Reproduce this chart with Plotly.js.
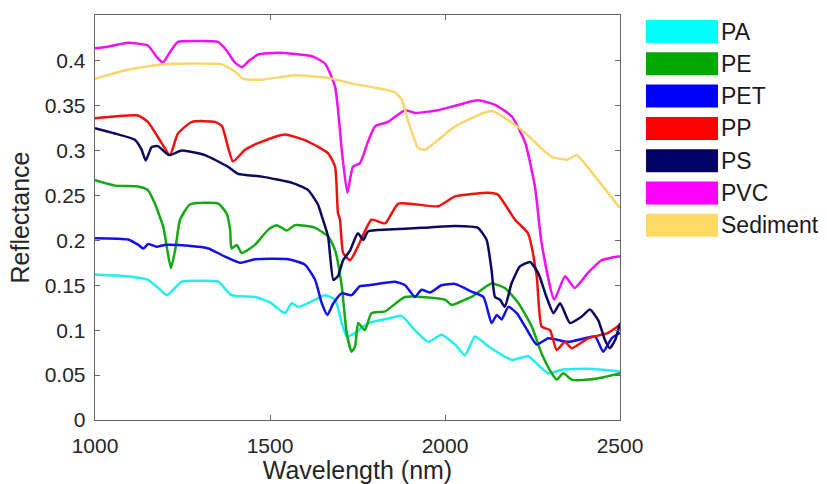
<!DOCTYPE html>
<html>
<head>
<meta charset="utf-8">
<script src="https://cdn.plot.ly/plotly-3.0.1.min.js"></script>
<style>html,body{margin:0;padding:0;background:#fff;}#chart{width:827px;height:484px;}</style>
</head>
<body>
<div id="chart"></div>
<script>
// Series names (legend order)
const seriesNames = ["PA", "PE", "PET", "PP", "PS", "PVC", "Sediment"];

// PA
const paW = [1000,1050,1095,1152,1181,1205,1248,1300,1352,1390,1457,1500,1533,1543,1562,1581,1619,1657,1686,1705,1719,1743,1781,1838,1876,1914,1952,1990,2029,2057,2086,2124,2190,2238,2267,2295,2333,2410,2500];
const paR = [0.162,0.161,0.160,0.156,0.147,0.139,0.154,0.155,0.154,0.139,0.137,0.131,0.121,0.119,0.130,0.126,0.132,0.139,0.134,0.108,0.093,0.097,0.108,0.113,0.116,0.100,0.087,0.095,0.084,0.072,0.093,0.082,0.067,0.071,0.061,0.052,0.056,0.057,0.054];

// PE
const peW = [1000,1057,1123,1151,1171,1195,1208,1217,1229,1243,1271,1352,1376,1386,1390,1405,1419,1457,1495,1519,1548,1571,1629,1667,1686,1705,1719,1733,1743,1752,1771,1790,1829,1886,2000,2019,2057,2076,2133,2171,2210,2248,2276,2305,2319,2338,2362,2410,2457,2500];
const peR = [0.267,0.261,0.260,0.256,0.241,0.215,0.186,0.169,0.189,0.223,0.240,0.241,0.230,0.212,0.191,0.195,0.186,0.195,0.212,0.217,0.211,0.217,0.214,0.204,0.189,0.149,0.097,0.076,0.082,0.108,0.100,0.119,0.121,0.137,0.134,0.128,0.134,0.137,0.152,0.147,0.130,0.104,0.074,0.052,0.045,0.052,0.045,0.045,0.048,0.052];

// PET
const petW = [1000,1095,1124,1138,1152,1176,1200,1267,1324,1371,1414,1457,1552,1600,1629,1648,1664,1681,1705,1733,1757,1781,1857,1886,1914,1933,1957,1990,2029,2076,2110,2133,2148,2162,2181,2205,2229,2262,2295,2352,2400,2429,2452,2476,2500];
const petR = [0.2025,0.201,0.195,0.191,0.196,0.193,0.195,0.194,0.191,0.182,0.175,0.179,0.179,0.173,0.156,0.130,0.117,0.130,0.141,0.139,0.149,0.150,0.154,0.150,0.137,0.145,0.142,0.150,0.1515,0.143,0.137,0.108,0.117,0.112,0.126,0.119,0.104,0.084,0.091,0.087,0.091,0.093,0.076,0.091,0.097];

// PP
const ppW = [1000,1123,1151,1191,1214,1237,1277,1343,1363,1394,1429,1477,1543,1609,1666,1686,1694,1700,1709,1729,1751,1790,1829,1867,1980,2029,2123,2151,2200,2237,2262,2276,2300,2319,2343,2362,2409,2466,2500];
const ppR = [0.336,0.339,0.332,0.308,0.295,0.319,0.332,0.332,0.327,0.288,0.301,0.310,0.318,0.310,0.297,0.282,0.231,0.223,0.186,0.178,0.193,0.223,0.219,0.241,0.238,0.249,0.253,0.251,0.223,0.208,0.160,0.104,0.100,0.078,0.087,0.080,0.091,0.097,0.106];

// PS
const psW = [1000,1057,1114,1133,1145,1162,1180,1211,1248,1314,1380,1409,1477,1563,1609,1637,1648,1666,1681,1694,1709,1729,1751,1767,1780,1837,1933,2029,2094,2119,2133,2143,2157,2171,2190,2214,2243,2267,2290,2310,2329,2357,2390,2414,2438,2457,2471,2486,2500];
const psR = [0.325,0.319,0.312,0.301,0.289,0.304,0.305,0.295,0.300,0.295,0.282,0.274,0.271,0.264,0.256,0.240,0.227,0.204,0.156,0.160,0.178,0.189,0.208,0.2005,0.210,0.212,0.214,0.216,0.214,0.2005,0.167,0.137,0.134,0.126,0.152,0.171,0.176,0.163,0.137,0.119,0.130,0.108,0.115,0.123,0.111,0.089,0.080,0.089,0.108];

// PVC
const pvcW = [1000,1040,1094,1151,1175,1194,1215,1237,1300,1351,1375,1400,1420,1440,1466,1523,1620,1657,1686,1706,1721,1737,1757,1780,1800,1837,1886,1914,1980,2029,2094,2143,2191,2229,2257,2276,2312,2343,2371,2409,2448,2494,2500];
const pvcR = [0.414,0.416,0.420,0.417,0.405,0.398,0.410,0.421,0.422,0.421,0.412,0.398,0.393,0.400,0.407,0.409,0.405,0.397,0.371,0.297,0.253,0.282,0.286,0.310,0.327,0.332,0.345,0.342,0.345,0.350,0.356,0.351,0.338,0.309,0.260,0.197,0.134,0.160,0.147,0.164,0.178,0.182,0.182];

// Sediment
const sedW = [1000,1094,1191,1286,1363,1400,1423,1477,1571,1666,1743,1800,1857,1876,1894,1923,1943,2029,2133,2219,2305,2351,2376,2429,2500];
const sedR = [0.380,0.390,0.396,0.397,0.396,0.388,0.380,0.379,0.384,0.381,0.374,0.370,0.365,0.357,0.334,0.303,0.301,0.327,0.344,0.323,0.293,0.290,0.295,0.271,0.236];

// Axis ticks
const xTicks = [1000, 1500, 2000, 2500];
const yTicks = [0, 0.05, 0.1, 0.15, 0.2, 0.25, 0.3, 0.35, 0.4];

const allW = [paW, peW, petW, ppW, psW, pvcW, sedW];
const allR = [paR, peR, petR, ppR, psR, pvcR, sedR];
const colors = ["#22eeee", "#14a814", "#1010f0", "#f01010", "#0a0a5e", "#f010f0", "#f9d66c"];
const legendColors = ["#00ffff", "#00a800", "#0000ff", "#ff0000", "#000066", "#ff00ff", "#ffd966"];

const FONT = "Liberation Sans, Arial, sans-serif";

const traces = seriesNames.map((n, i) => ({
  x: allW[i], y: allR[i], name: n, type: "scatter", mode: "lines",
  line: {color: colors[i], width: 2.5, shape: "spline", smoothing: 0.5},
  showlegend: false, hoverinfo: "skip"
}));

// custom legend geometry (pixels)
const W = 827, H = 484, L = 95, R = 620, T = 15, B = 420;
const pw = R - L, ph = B - T;
const px = x => (x - L) / pw;
const py = y => 1 - (y - T) / ph;
const shapes = [], annotations = [];
seriesNames.forEach((n, i) => {
  const top = 20 + i * 32.3, bot = top + 23;
  shapes.push({type: "rect", xref: "paper", yref: "paper",
    x0: px(646), x1: px(718), y0: py(bot), y1: py(top),
    fillcolor: legendColors[i], line: {width: 0}});
  annotations.push({xref: "paper", yref: "paper", x: px(719), y: py((top + bot) / 2),
    text: n, showarrow: false, xanchor: "left", yanchor: "middle",
    font: {family: FONT, size: 23, color: "#1a1a1a"}});
});

const axisCommon = {
  showgrid: false, zeroline: false, showline: true, linecolor: "#666666", linewidth: 1.3,
  ticks: "inside", ticklen: 5, tickcolor: "#666666", tickwidth: 1, mirror: "ticks",
  tickfont: {family: FONT, size: 21, color: "#262626"}
};

const layout = {
  width: W, height: H,
  margin: {l: L, r: W - R, t: T, b: H - B},
  paper_bgcolor: "#ffffff", plot_bgcolor: "#ffffff",
  xaxis: Object.assign({}, axisCommon, {
    range: [1000, 2500], tickvals: xTicks, ticktext: xTicks.map(String),
    ticklabelstandoff: 6,
    title: {text: "Wavelength (nm)", standoff: 9,
      font: {family: FONT, size: 25, color: "#262626"}}
  }),
  yaxis: Object.assign({}, axisCommon, {
    range: [0, 0.451], tickvals: yTicks, ticktext: yTicks.map(String),
    ticklabelstandoff: 4,
    title: {text: "Reflectance", standoff: 8,
      font: {family: FONT, size: 25, color: "#262626"}}
  }),
  shapes: shapes, annotations: annotations
};

Plotly.newPlot("chart", traces, layout, {displayModeBar: false, staticPlot: true});
</script>
</body>
</html>
